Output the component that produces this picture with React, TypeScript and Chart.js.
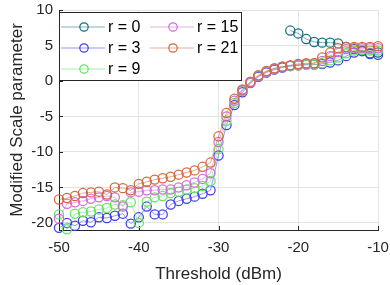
import React, { useEffect, useRef } from "react";
import { Chart, registerables } from "chart.js";

Chart.register(...registerables);

const thresholds = [
  -50, -49, -48, -47, -46, -45, -44, -43, -42, -41,
  -40, -39, -38, -37, -36, -35, -34, -33, -32, -31,
  -30, -29, -28, -27, -26, -25, -24, -23, -22, -21,
  -20, -19, -18, -17, -16, -15, -14, -13, -12, -11, -10,
];

const seriesLabels = ["r = 0", "r = 3", "r = 9", "r = 15", "r = 21"];

const r0: (number | null)[] = [
  null, null, null, null, null, null, null, null, null, null,
  null, null, null, null, null, null, null, null, null, null,
  null, null, null, null, null, null, null, null, null, 7.1,
  6.7, 5.9, 5.5, 5.4, 5.4, 5.3, 4.8, 4.5, 4.3, 3.9, 4.0,
];
const r3 = [
  -20.7, -20.0, -20.4, -19.7, -19.9, -19.2, -19.3, -19.0, -18.7, -20.1,
  -19.2, -17.7, -18.8, -18.8, -17.4, -16.9, -16.6, -16.3, -15.9, -15.4,
  -10.5, -6.2, -3.4, -1.6, -0.3, 0.6, 1.2, 1.6, 1.9, 2.1,
  2.2, 2.3, 2.3, 2.4, 2.6, 2.9, 3.5, 4.0, 4.2, 3.8, 3.7,
];
const r9 = [
  -18.8, -20.9, -18.7, -18.5, -18.4, -18.1, -17.9, -17.4, -17.5, -17.1,
  -20.0, -17.0, -16.4, -16.2, -15.8, -15.6, -15.3, -15.1, -14.8, -14.1,
  -9.6, -5.6, -3.1, -1.4, -0.2, 0.7, 1.3, 1.7, 2.0, 2.1,
  2.2, 2.3, 2.3, 2.5, 2.9, 3.3, 3.9, 4.3, 4.4, 4.3, 4.3,
];
const r15 = [
  -19.4, -17.3, -17.1, -16.9, -16.6, -16.4, -16.2, -16.4, -17.7, -15.7,
  -15.6, -15.4, -15.4, -15.3, -15.3, -15.0, -14.7, -14.3, -13.8, -13.0,
  -8.6, -5.0, -2.8, -1.3, -0.2, 0.7, 1.3, 1.7, 2.0, 2.2,
  2.3, 2.4, 2.5, 2.8, 3.5, 4.1, 4.5, 4.6, 4.6, 4.6, 4.6,
];
const r21 = [
  -16.7, -16.5, -16.2, -15.8, -15.7, -15.6, -16.0, -15.0, -15.1, -15.4,
  -14.5, -14.2, -13.9, -13.7, -13.5, -13.2, -12.9, -12.6, -12.1, -11.5,
  -7.8, -4.5, -2.5, -1.2, -0.1, 0.8, 1.4, 1.8, 2.0, 2.2,
  2.4, 2.5, 2.5, 3.3, 4.0, 4.6, 4.8, 4.8, 4.8, 4.8, 4.9,
];

const xTicks = [-50, -40, -30, -20, -10];
const yTicks = [-20, -15, -10, -5, 0, 5, 10];

const colors = [
  [24, 108, 128],
  [64, 64, 230],
  [100, 228, 100],
  [210, 110, 220],
  [210, 105, 60],
];

const FONT = '"Liberation Sans", Arial, Helvetica, sans-serif';
const AXIS = "#262626";

export default function App() {
  const ref = useRef<HTMLCanvasElement>(null);

  useEffect(() => {
    document.body.style.margin = "0";
    const canvas = ref.current!;
    const all = [r0, r3, r9, r15, r21];

    const datasets = all.map((vals, i) => {
      const [r, g, b] = colors[i];
      return {
        label: seriesLabels[i],
        data: thresholds.map((t, j) => ({ x: t, y: vals[j] })),
        borderColor: `rgba(${r},${g},${b},0.55)`,
        borderWidth: 1,
        pointStyle: "circle",
        pointRadius: 4.6,
        pointBorderWidth: 1.25,
        pointBorderColor: `rgb(${r},${g},${b})`,
        pointBackgroundColor: "rgba(0,0,0,0)",
        fill: false,
        spanGaps: false,
        clip: false as any,
        order: all.length - 1 - i,
      };
    });

    const overlay = {
      id: "matlabOverlay",
      beforeDatasetsDraw(chart: any) {
        const { ctx, chartArea } = chart;
        const xs = chart.scales.x;
        const ys = chart.scales.y;
        ctx.save();
        ctx.strokeStyle = AXIS;
        ctx.lineWidth = 1;
        xTicks.forEach((v) => {
          const px = Math.round(xs.getPixelForValue(v)) + 0.5;
          ctx.beginPath();
          ctx.moveTo(px, chartArea.bottom);
          ctx.lineTo(px, chartArea.bottom - 4);
          ctx.stroke();
        });
        yTicks.forEach((v) => {
          const py = Math.round(ys.getPixelForValue(v)) + 0.5;
          ctx.beginPath();
          ctx.moveTo(chartArea.left, py);
          ctx.lineTo(chartArea.left + 4, py);
          ctx.stroke();
        });
        ctx.restore();
      },
      afterDraw(chart: any) {
        const { ctx, chartArea } = chart;
        const bx = chartArea.left + 0.5;
        const by = 12.5;
        const bw = 182;
        const bh = 68;
        ctx.save();
        ctx.fillStyle = "#ffffff";
        ctx.fillRect(bx, by, bw, bh);
        ctx.strokeStyle = AXIS;
        ctx.lineWidth = 1;
        ctx.strokeRect(bx, by, bw, bh);
        const colX = [bx + 1.5, bx + 90.5];
        const rowY = [27, 48, 69];
        const slots = [
          [0, 0],
          [0, 1],
          [0, 2],
          [1, 0],
          [1, 1],
        ];
        ctx.font = `16px ${FONT}`;
        ctx.textBaseline = "middle";
        ctx.textAlign = "left";
        slots.forEach(([c, r], i) => {
          const [cr, cg, cb] = colors[i];
          const x0 = colX[c];
          const y = rowY[r];
          ctx.strokeStyle = `rgba(${cr},${cg},${cb},0.55)`;
          ctx.lineWidth = 1.2;
          ctx.beginPath();
          ctx.moveTo(x0, y);
          ctx.lineTo(x0 + 44, y);
          ctx.stroke();
          ctx.strokeStyle = `rgb(${cr},${cg},${cb})`;
          ctx.lineWidth = 1.2;
          ctx.beginPath();
          ctx.arc(x0 + 23, y, 4.2, 0, Math.PI * 2);
          ctx.stroke();
          ctx.fillStyle = "#000000";
          ctx.fillText(seriesLabels[i], x0 + 47, y + 1);
        });
        ctx.restore();
      },
    };

    const chart = new Chart(canvas, {
      type: "line",
      data: { datasets: datasets as any },
      plugins: [overlay],
      options: {
        animation: false,
        responsive: false,
        devicePixelRatio: 1,
        layout: { padding: { top: 10, right: 12, bottom: 0, left: 0 } },
        plugins: {
          legend: { display: false },
          tooltip: { enabled: false },
        },
        elements: { line: { tension: 0 } },
        scales: {
          x: {
            type: "linear",
            min: -50,
            max: -10,
            afterBuildTicks: (s: any) => {
              s.ticks = xTicks.map((v) => ({ value: v }));
            },
            afterFit: (s: any) => {
              s.height = 55;
              s.paddingLeft = 0;
              s.paddingRight = 0;
            },
            grid: { color: "#e4e4e4", lineWidth: 1, drawTicks: false },
            border: { display: true, color: AXIS, width: 1 },
            ticks: {
              padding: 9,
              color: AXIS,
              font: { family: FONT, size: 15 },
              maxRotation: 0,
              callback: (v: any) => String(v),
            },
            title: {
              display: true,
              text: "Threshold (dBm)",
              color: AXIS,
              font: { family: FONT, size: 17 },
              padding: { top: 6, bottom: 0 },
            },
          },
          y: {
            type: "linear",
            min: -21,
            max: 10,
            afterBuildTicks: (s: any) => {
              s.ticks = yTicks.map((v) => ({ value: v }));
            },
            afterFit: (s: any) => {
              s.width = 59;
              s.paddingTop = 0;
              s.paddingBottom = 0;
            },
            grid: { color: "#e4e4e4", lineWidth: 1, drawTicks: false },
            border: { display: true, color: AXIS, width: 1 },
            ticks: {
              padding: 6,
              color: AXIS,
              font: { family: FONT, size: 15 },
              callback: (v: any) => String(v),
            },
            title: {
              display: true,
              text: "Modified Scale parameter",
              color: AXIS,
              font: { family: FONT, size: 17 },
              padding: { top: 7, bottom: 0 },
            },
          },
        },
      },
    });

    return () => chart.destroy();
  }, []);

  return (
    <div style={{ position: "relative", width: 390, height: 285 }}>
      <canvas
        ref={ref}
        width={390}
        height={285}
        style={{ display: "block", width: 390, height: 285 }}
      />
    </div>
  );
}
